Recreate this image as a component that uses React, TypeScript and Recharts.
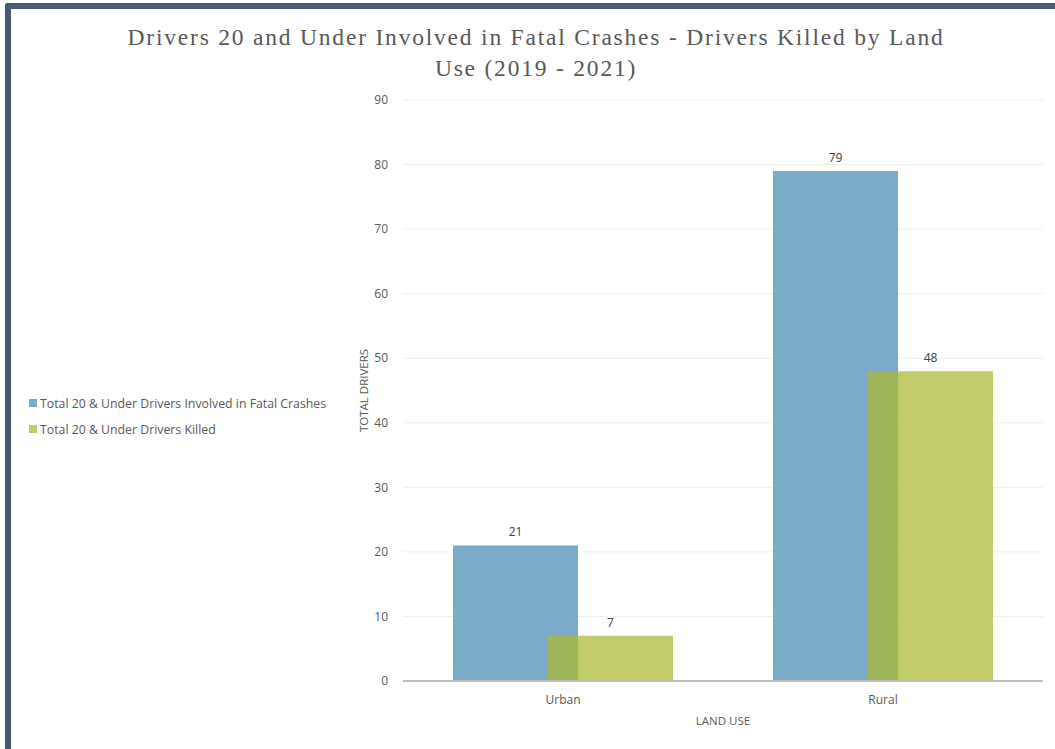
import { BarChart, Bar, XAxis, YAxis, CartesianGrid, Legend, LabelList } from "recharts";

const landUse = ["Urban", "Rural"];
const involved = [21, 79];
const killed = [7, 48];
const yTicks = [0, 10, 20, 30, 40, 50, 60, 70, 80, 90];

const seriesNames = [
    "Total 20 & Under Drivers Involved in Fatal Crashes",
    "Total 20 & Under Drivers Killed",
];
const seriesColors = ["#7aabc9", "#abb930"];

const data = landUse.map((name, i) => ({ name, involved: involved[i], killed: killed[i] }));

const font = "'Open Sans', 'Noto Sans', sans-serif";

const renderLegend = () => (
    <div style={{ fontFamily: font, fontSize: 12.3, color: "#595959" }}>
        {seriesNames.map((n, i) => (
            <div key={n} style={{ display: "flex", alignItems: "center", height: 26, whiteSpace: "nowrap" }}>
                <span
                    style={{
                        display: "inline-block",
                        width: 8,
                        height: 8,
                        background: i === 0 ? seriesColors[0] : "#c2cc68",
                        marginRight: 3,
                    }}
                />
                {n}
            </div>
        ))}
    </div>
);

export default function App() {
    return (
        <div style={{ position: "absolute", left: 0, top: 0, width: 1055, height: 749, background: "#fff", overflow: "hidden" }}>
            <div
                style={{
                    position: "absolute",
                    left: 5,
                    top: 3,
                    width: 1100,
                    height: 800,
                    borderLeft: "6px solid #4a5a72",
                    borderTop: "6px solid #4a5a72",
                    borderTopLeftRadius: 3,
                }}
            />
            <div
                style={{
                    position: "absolute",
                    left: 18,
                    top: 22,
                    width: 1036,
                    textAlign: "center",
                    fontFamily: "'Liberation Serif', serif",
                    fontSize: 23.5,
                    letterSpacing: 1.8,
                    lineHeight: "31px",
                    color: "#595959",
                }}
            >
                Drivers 20 and Under Involved in Fatal Crashes - Drivers Killed by Land
                <br />
                Use (2019 - 2021)
            </div>
            <div style={{ position: "absolute", left: 0, top: 0 }}>
                <BarChart
                    width={1055}
                    height={749}
                    data={data}
                    margin={{ top: 100, right: 12, bottom: 38, left: 29 }}
                    barGap={-30}
                    barSize={125}
                >
                    <CartesianGrid vertical={false} stroke="#efefef" />
                    <XAxis
                        dataKey="name"
                        height={30}
                        tickLine={false}
                        tickMargin={8}
                        axisLine={{ stroke: "#bfbfbf", strokeWidth: 2 }}
                        tick={{ fill: "#595959", fontSize: 12, fontFamily: font }}
                        label={({ viewBox }: any) => (
                            <text
                                x={viewBox.x + viewBox.width / 2}
                                y={viewBox.y + 44}
                                textAnchor="middle"
                                fill="#595959"
                                fontSize={11.5}
                                fontFamily={font}
                            >
                                LAND USE
                            </text>
                        )}
                    />
                    <YAxis
                        width={44}
                        domain={[0, 90]}
                        ticks={yTicks}
                        interval={0}
                        axisLine={false}
                        tickLine={false}
                        tickMargin={9}
                        tick={{ fill: "#595959", fontSize: 12, fontFamily: font }}
                        label={({ viewBox }: any) => {
                            const x = viewBox.x + 4;
                            const y = viewBox.y + viewBox.height / 2;
                            return (
                                <text
                                    x={x}
                                    y={y}
                                    transform={`rotate(-90 ${x} ${y})`}
                                    textAnchor="middle"
                                    dominantBaseline="central"
                                    fill="#595959"
                                    fontSize={11.5}
                                    fontFamily={font}
                                >
                                    TOTAL DRIVERS
                                </text>
                            );
                        }}
                    />
                    <Legend
                        layout="vertical"
                        align="left"
                        verticalAlign="middle"
                        content={renderLegend}
                        wrapperStyle={{ left: 29, top: 390, width: 330 }}
                    />
                    <Bar dataKey="involved" name={seriesNames[0]} fill={seriesColors[0]} isAnimationActive={false}>
                        <LabelList dataKey="involved" position="top" offset={9} fill="#404040" fontSize={12} fontFamily={font} />
                    </Bar>
                    <Bar dataKey="killed" name={seriesNames[1]} fill={seriesColors[1]} fillOpacity={0.73} isAnimationActive={false}>
                        <LabelList dataKey="killed" position="top" offset={9} fill="#404040" fontSize={12} fontFamily={font} />
                    </Bar>
                </BarChart>
            </div>
        </div>
    );
}
